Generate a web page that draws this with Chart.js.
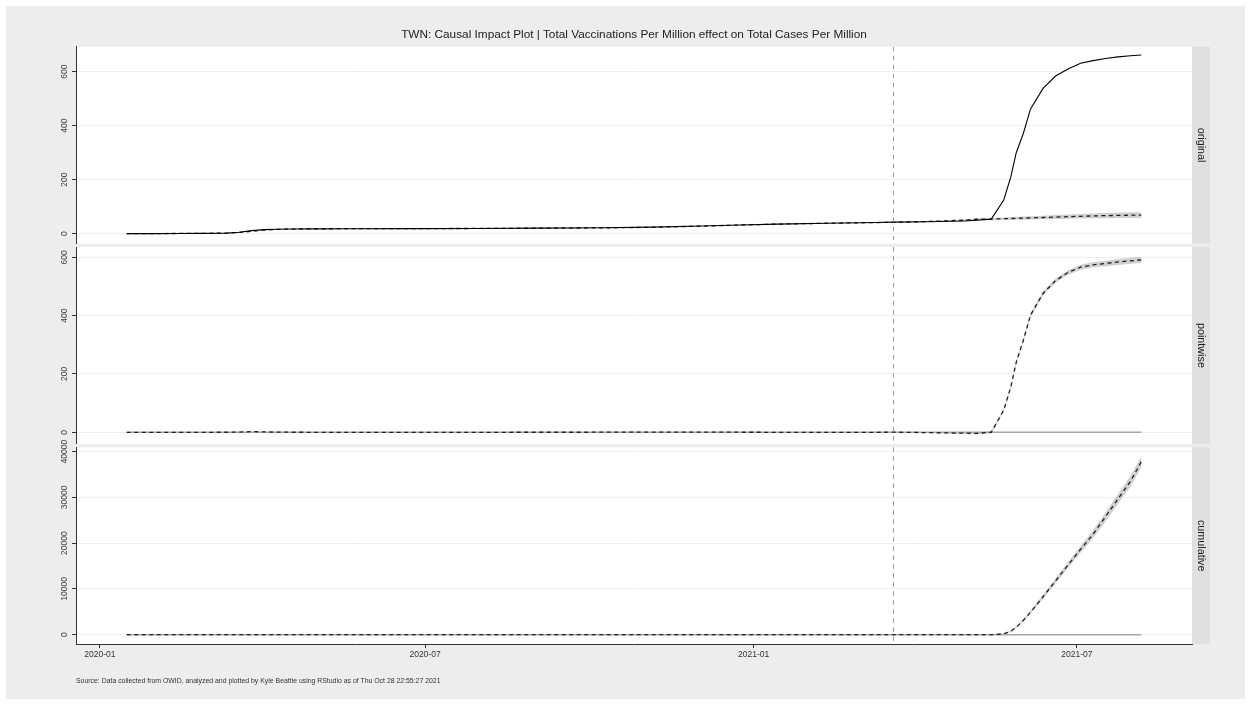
<!DOCTYPE html>
<html>
<head>
<meta charset="utf-8">
<script src="https://cdn.jsdelivr.net/npm/chart.js@4.4.1/dist/chart.umd.min.js"></script>
<style>
  html, body { margin: 0; padding: 0; background: #ffffff; width: 1251px; height: 705px; overflow: hidden;
               font-family: "Liberation Sans", Arial, Helvetica, sans-serif; }
  #frame { position: absolute; left: 6px; top: 6px; width: 1239px; height: 693px; background: #ededed; }
  canvas { position: absolute; left: 0; }
  #title { position: absolute; left: 76px; width: 1116px; top: 27px; text-align: center; font-size: 11.8px;
           line-height: 14px; color: #222; white-space: nowrap; }
  #caption { position: absolute; left: 76px; top: 677px; font-size: 6.9px; line-height: 8px; color: #333; white-space: nowrap; }
</style>
</head>
<body>
<div id="frame"></div>
<canvas id="pOriginal" width="1251" height="226" style="top:30px"></canvas>
<canvas id="pPointwise" width="1251" height="224" style="top:233px"></canvas>
<canvas id="pCumulative" width="1251" height="250" style="top:433px"></canvas>
<div id="title">TWN: Causal Impact Plot | Total Vaccinations Per Million effect on Total Cases Per Million</div>
<div id="caption">Source: Data collected from OWID, analyzed and plotted by Kyle Beattie using RStudio as of Thu Oct 28 22:55:27 2021</div>
<script>
// ---- data -------------------------------------------------------------
const dates = [
  '2020-01-16','2020-01-30','2020-02-13','2020-02-27','2020-03-12','2020-03-19','2020-03-26','2020-04-02',
  '2020-04-09','2020-04-16','2020-04-30','2020-05-21','2020-06-25','2020-07-30','2020-09-03','2020-10-08',
  '2020-11-05','2020-12-03','2020-12-24','2021-01-14','2021-02-11','2021-03-11','2021-03-20','2021-04-08',
  '2021-04-29','2021-05-06','2021-05-14','2021-05-21','2021-05-25','2021-05-28','2021-06-01','2021-06-05',
  '2021-06-12','2021-06-19','2021-06-26','2021-07-03','2021-07-10','2021-07-17','2021-07-24','2021-07-31',
  '2021-08-06'
];

// total cases per million, observed
const observed = [
  0.1, 0.4, 0.8, 1.3, 2.2, 5.5, 11.5, 15.0, 16.5, 17.3, 18.0, 18.5, 18.9, 19.4, 20.6, 21.8,
  24.2, 28.6, 32.4, 35.4, 38.6, 41.3, 42.7, 44.0, 47.0, 50.0, 54.0, 125, 211, 300, 372, 462,
  538, 584, 610, 631, 641, 649, 655, 659, 662
];

// counterfactual prediction (posterior mean)
const predicted = [
  0.1, 0.4, 0.8, 1.3, 2.0, 4.7, 9.0, 13.5, 16.0, 17.0, 18.0, 18.8, 18.9, 19.4, 20.4, 21.5,
  23.7, 28.0, 32.1, 35.4, 38.8, 41.3, 42.2, 45.0, 50.0, 53.5, 54.0, 55.5, 56.3, 57.0, 57.8, 58.6,
  60.0, 61.5, 63.0, 64.5, 65.8, 67.0, 67.8, 68.5, 69.0
];

// pointwise effect (observed minus prediction)
const pointwise = [
  0, 0, 0, 0, 0.2, 0.8, 2.5, 1.5, 0.5, 0.3, 0, -0.3, 0, 0, 0.2, 0.3,
  0.5, 0.6, 0.3, 0, -0.2, 0, 0.5, -1, -3, -3.5, 0, 76, 156, 240, 316, 402,
  476, 520, 548, 566, 574, 579, 584, 588, 591
];

// cumulative effect
const cumulative = [
  0, 0, 0, 0, 0, 0, 0, 0, 0, 0, 0, 0, 0, 0, 0, 0,
  0, 0, 0, 0, 0, 0, 0, 0, 0, 0, 0, 200, 750, 1650, 3150, 4900,
  8300, 11750, 15250, 18650, 21950, 25800, 29700, 33550, 37800
];

// post-period credible intervals
const intervention = '2021-03-20';
const bandDates = dates.filter(d => d >= intervention);
const predUpper  = [42.7, 46.8, 53.2, 57.4, 58.2, 60.4, 61.6, 62.6, 63.8, 64.9, 66.8, 68.8, 70.8, 72.8, 74.8, 76.5, 77.8, 79.0, 79.8];
const predLower  = [41.7, 43.2, 46.8, 49.6, 49.8, 50.6, 51.0, 51.4, 51.8, 52.3, 53.2, 54.2, 55.2, 56.2, 56.8, 57.5, 57.8, 58.0, 58.2];
const pointUpper = [1.0, 0.8, 0.2, 0.4, 4.2, 80.9, 161.3, 245.6, 322.0, 408.3, 482.8, 527.3, 555.8, 574.3, 583.0, 588.5, 594.0, 598.5, 601.8];
const pointLower = [0.0, -2.8, -6.2, -7.4, -4.2, 71.1, 150.7, 234.4, 310.0, 395.7, 469.2, 512.7, 540.2, 557.7, 565.0, 569.5, 574.0, 577.5, 580.2];
const cumUpper   = [0, 20, 50, 70, 90, 310, 900, 1840, 3400, 5220, 8730, 12290, 15900, 19410, 22820, 26780, 30780, 34720, 39000];
const cumLower   = [0, -20, -50, -70, -90, 90, 600, 1460, 2900, 4580, 7870, 11210, 14600, 17890, 21080, 24820, 28620, 32380, 36600];

// axes
const xTickDates  = ['2020-01-01', '2020-07-01', '2021-01-01', '2021-07-01'];
const xTickLabels = ['2020-01', '2020-07', '2021-01', '2021-07'];
const originalTicks   = [0, 200, 400, 600];
const pointwiseTicks  = [0, 200, 400, 600];
const cumulativeTicks = [0, 10000, 20000, 30000, 40000];
const panelNames = ['original', 'pointwise', 'cumulative'];

// ---- helpers ----------------------------------------------------------
const FONT = "'Liberation Sans', Arial, Helvetica, sans-serif";
const DAY0 = Date.parse('2020-01-01');
const toDay = d => (Date.parse(d) - DAY0) / 86400000;
const pts = (xs, ys) => xs.map((d, i) => ({ x: toDay(d), y: ys[i] }));

const first = toDay(dates[0]), last = toDay(dates[dates.length - 1]);
const xMin = first - 0.05 * (last - first);
const xMax = last + 0.05 * (last - first);

const BAND = 'rgba(150,150,150,0.45)';
const NONE = 'rgba(0,0,0,0)';
const DASH = [4, 3.5];

Chart.defaults.font.family = FONT;

// white panel, grey facet strip and the intervention marker
const facet = {
  id: 'facet',
  beforeDraw(chart, args, opts) {
    const { ctx, chartArea: a } = chart;
    ctx.save();
    ctx.fillStyle = '#ffffff';
    ctx.fillRect(a.left, a.top, a.right - a.left, a.bottom - a.top);
    ctx.fillStyle = '#e0e0e0';
    ctx.fillRect(a.right, a.top, 18, a.bottom - a.top);
    ctx.translate(a.right + 9, (a.top + a.bottom) / 2);
    ctx.rotate(Math.PI / 2);
    ctx.font = '10.8px ' + FONT;
    ctx.fillStyle = '#1a1a1a';
    ctx.textAlign = 'center';
    ctx.textBaseline = 'middle';
    ctx.fillText(opts.label, 0, 0);
    ctx.restore();
  },
  afterDatasetsDraw(chart) {
    const { ctx, chartArea: a } = chart;
    const x = Math.round(chart.scales.x.getPixelForValue(toDay(intervention))) + 0.5;
    ctx.save();
    ctx.strokeStyle = '#9a9a9a';
    ctx.lineWidth = 1;
    ctx.setLineDash([4.5, 4.5]);
    ctx.beginPath();
    ctx.moveTo(x, a.top);
    ctx.lineTo(x, a.bottom);
    ctx.stroke();
    ctx.restore();
  }
};

function bandSets(upper, lower) {
  return [
    { data: pts(bandDates, upper), fill: '+1', backgroundColor: BAND, borderColor: NONE, borderWidth: 0, pointRadius: 0, order: 5 },
    { data: pts(bandDates, lower), fill: false, borderColor: NONE, borderWidth: 0, pointRadius: 0, order: 5 }
  ];
}
const zeroLine = () => ({
  data: pts([dates[0], dates[dates.length - 1]], [0, 0]),
  borderColor: '#a6a6a6', borderWidth: 1.5, pointRadius: 0, fill: false, order: 4
});
const dashed = (ys) => ({
  data: pts(dates, ys), borderColor: '#1e1e1e', borderWidth: 1.3, borderDash: DASH,
  pointRadius: 0, fill: false, order: 2
});

function panel(id, cfg) {
  return new Chart(document.getElementById(id), {
    type: 'line',
    data: { datasets: cfg.datasets },
    options: {
      responsive: false, animation: false, events: [], devicePixelRatio: 1,
      layout: { padding: { left: 0, right: 59, top: cfg.padTop, bottom: cfg.padBottom } },
      plugins: { legend: { display: false }, tooltip: { enabled: false }, facet: { label: cfg.label } },
      scales: {
        x: {
          type: 'linear', min: xMin, max: xMax, display: cfg.showX,
          afterBuildTicks: s => { s.ticks = xTickDates.map(d => ({ value: toDay(d) })); },
          afterFit: s => { s.height = cfg.showX ? 30 : 0; },
          grid: { drawOnChartArea: false, drawTicks: true, tickLength: 4, tickColor: '#333', tickWidth: 1 },
          border: { display: true, color: '#333', width: 1 },
          ticks: { callback: (v, i) => xTickLabels[i], autoSkip: false, maxRotation: 0, padding: 1,
                   color: '#333', font: { size: 8.5 } }
        },
        y: {
          type: 'linear', min: cfg.yMin, max: cfg.yMax,
          afterBuildTicks: s => { s.ticks = cfg.yTicks.map(v => ({ value: v })); },
          afterFit: s => { s.width = 76; },
          grid: { color: '#efefef', lineWidth: 1, drawTicks: true, tickLength: 4, tickColor: '#333', tickWidth: 1 },
          border: { display: true, color: '#333', width: 1 },
          ticks: { minRotation: 90, maxRotation: 90, crossAlign: 'center', padding: cfg.tickPad,
                   color: '#444', font: { size: 8.5 }, callback: v => String(v) }
        }
      }
    },
    plugins: [facet]
  });
}

panel('pOriginal', {
  label: panelNames[0], showX: false, padTop: 16.7, padBottom: 12.5,
  yMin: -36.3, yMax: 692.6, yTicks: originalTicks, tickPad: 0,
  datasets: [
    { data: pts(dates, observed), borderColor: '#000', borderWidth: 1.1, pointRadius: 0, fill: false, order: 1 },
    dashed(predicted),
    ...bandSets(predUpper, predLower)
  ]
});

panel('pPointwise', {
  label: panelNames[1], showX: false, padTop: 14, padBottom: 13.2,
  yMin: -39.4, yMax: 635.3, yTicks: pointwiseTicks, tickPad: 0,
  datasets: [
    dashed(pointwise),
    zeroLine(),
    ...bandSets(pointUpper, pointLower)
  ]
});

panel('pCumulative', {
  label: panelNames[2], showX: true, padTop: 14.3, padBottom: 8.9,
  yMin: -2055, yMax: 40960, yTicks: cumulativeTicks, tickPad: -4.8,
  datasets: [
    dashed(cumulative),
    zeroLine(),
    ...bandSets(cumUpper, cumLower)
  ]
});
</script>
</body>
</html>
